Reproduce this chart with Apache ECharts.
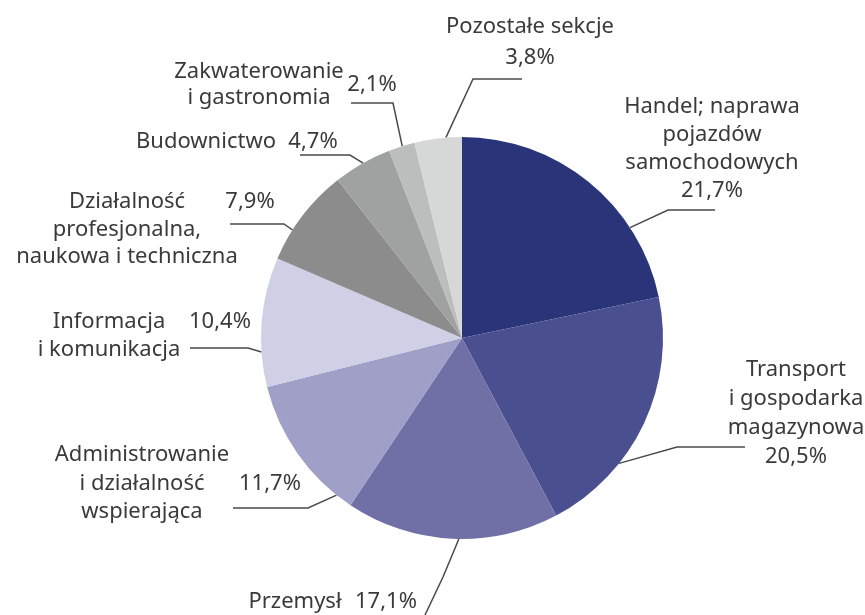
<!DOCTYPE html>
<html>
<head>
<meta charset="utf-8">
<script src="https://cdn.jsdelivr.net/npm/echarts@6/dist/echarts.min.js"></script>
<style>
  html, body { margin: 0; padding: 0; background: #fff; }
  #chart { width: 865px; height: 615px; }
</style>
</head>
<body>
<div id="chart"></div>
<script>
// sekcje PKD, kolejnosc zgodnie z ruchem wskazowek zegara od godziny 12
const categories = [
  'Handel; naprawa\npojazdów\nsamochodowych',
  'Transport\ni gospodarka\nmagazynowa',
  'Przemysł',
  'Administrowanie\ni działalność\nwspierająca',
  'Informacja\ni komunikacja',
  'Działalność\nprofesjonalna,\nnaukowa i techniczna',
  'Budownictwo',
  'Zakwaterowanie\ni gastronomia',
  'Pozostałe sekcje'
];
const shares = [21.7, 20.5, 17.1, 11.7, 10.4, 7.9, 4.7, 2.1, 3.8];
const colors = ['#2a3479', '#4a4f8f', '#7070a6', '#a09fc8', '#cfcfe6',
                '#8c8c8c', '#a0a2a2', '#bcbdbd', '#d6d8d8'];

const CX = 462, CY = 338, R = 201;

// rozmieszczenie podpisow: nx/vx - srodek nazwy/wartosci, top - srodek 1. wiersza,
// lh - odstep wierszy, vRow - pol-wiersz z wartoscia, a - kat zaczepienia linii
const labelPos = [
  { nx: 712, vx: null, top: 107, lh: 28,   a: 56.7,  line: [[668, 210], [715, 210]] },
  { nx: 796, vx: null, top: 370, lh: 29,   a: 128.6, line: [[677, 447], [745, 447]] },
  { nx: 295, vx: 386,  top: 602, lh: 28,   vRow: 0, a: 180.9, line: [[443, 577], [425, 615]] },
  { nx: 142, vx: 270,  top: 455, lh: 28.5, vRow: 2, a: 218.6, line: [[308, 508], [233, 508]] },
  { nx: 109, vx: 220,  top: 322, lh: 28,   vRow: 0, a: 266,   line: [[248, 348], [190, 348]] },
  { nx: 127, vx: 250,  top: 202, lh: 27.5, vRow: 0, a: 302.5, line: [[284, 224], [230, 224]] },
  { nx: 206, vx: 313,  top: 142, lh: 28,   vRow: 0, a: 330.5, line: [[350, 155], [300, 155]] },
  { nx: 259, vx: 372,  top: 72,  lh: 26,   vRow: 1, a: 342.7, line: [[393, 103], [351, 103]] },
  { nx: 530, vx: null, top: 27,  lh: 31,   a: 355.4, line: [[473, 79], [522, 79]] }
];
const VW = 64;

function fmt(v) {
  return v.toFixed(1).replace('.', ',') + '%';
}

function nameWidth(p) {
  return p.vx === null ? 260 : 2 * (p.vx - VW / 2 - p.nx);
}

function buildLabel(i) {
  const p = labelPos[i];
  const lines = categories[i].split('\n');
  const val = fmt(shares[i]);
  const rows = [];
  if (p.vx === null) {
    lines.forEach(l => rows.push('{n|' + l + '}'), null);
    rows.push('{n|' + val + '}');
    return rows.join('\n');
  }
  // pol-wiersze: nazwy na parzystych, wartosc na vRow
  const half = Math.max(lines.length * 2 - 1, p.vRow + 1);
  for (let k = 0; k < half; k++) {
    const nm = (k % 2 === 0 && lines[k / 2]) ? lines[k / 2] : ' ';
    const vv = k === p.vRow ? val : ' ';
    rows.push('{h|' + nm + '}{w|' + vv + '}');
  }
  return rows.join('\n');
}

const chart = echarts.init(document.getElementById('chart'));

const data = categories.map((c, i) => {
  const p = labelPos[i];
  const nw = nameWidth(p);
  const big = p.vx === null;
  return {
    name: c,
    value: shares[i],
    itemStyle: { color: colors[i] },
    label: {
      formatter: buildLabel(i),
      rich: {
        n: { width: nw, align: 'center', lineHeight: p.lh, fontSize: 22, color: '#3a3a3a', fontFamily: 'Noto Sans' },
        h: { width: nw, align: 'center', lineHeight: p.lh / 2, fontSize: 22, color: '#3a3a3a', fontFamily: 'Noto Sans' },
        w: { width: VW, align: 'center', lineHeight: p.lh / 2, fontSize: 22, color: '#3a3a3a', fontFamily: 'Noto Sans' }
      }
    }
  };
});

chart.setOption({
  backgroundColor: '#ffffff',
  animation: false,
  series: [{
    type: 'pie',
    center: [CX, CY],
    radius: R,
    startAngle: 90,
    clockwise: true,
    avoidLabelOverlap: false,
    itemStyle: { borderWidth: 0 },
    label: { show: true, position: 'outside' },
    labelLine: { show: true, lineStyle: { color: '#4a4a4a', width: 1.5 } },
    labelLayout: function (params) {
      const i = params.dataIndex;
      const p = labelPos[i];
      const nw = nameWidth(p);
      const rowH = p.vx === null ? p.lh : p.lh / 2;
      const rad = p.a * Math.PI / 180;
      const anchor = [CX + R * Math.sin(rad), CY - R * Math.cos(rad)];
      return {
        x: p.nx - nw / 2,
        y: p.top - rowH / 2,
        align: 'left',
        verticalAlign: 'top',
        labelLinePoints: [anchor, p.line[0], p.line[1]]
      };
    },
    data: data
  }]
});
</script>
</body>
</html>
